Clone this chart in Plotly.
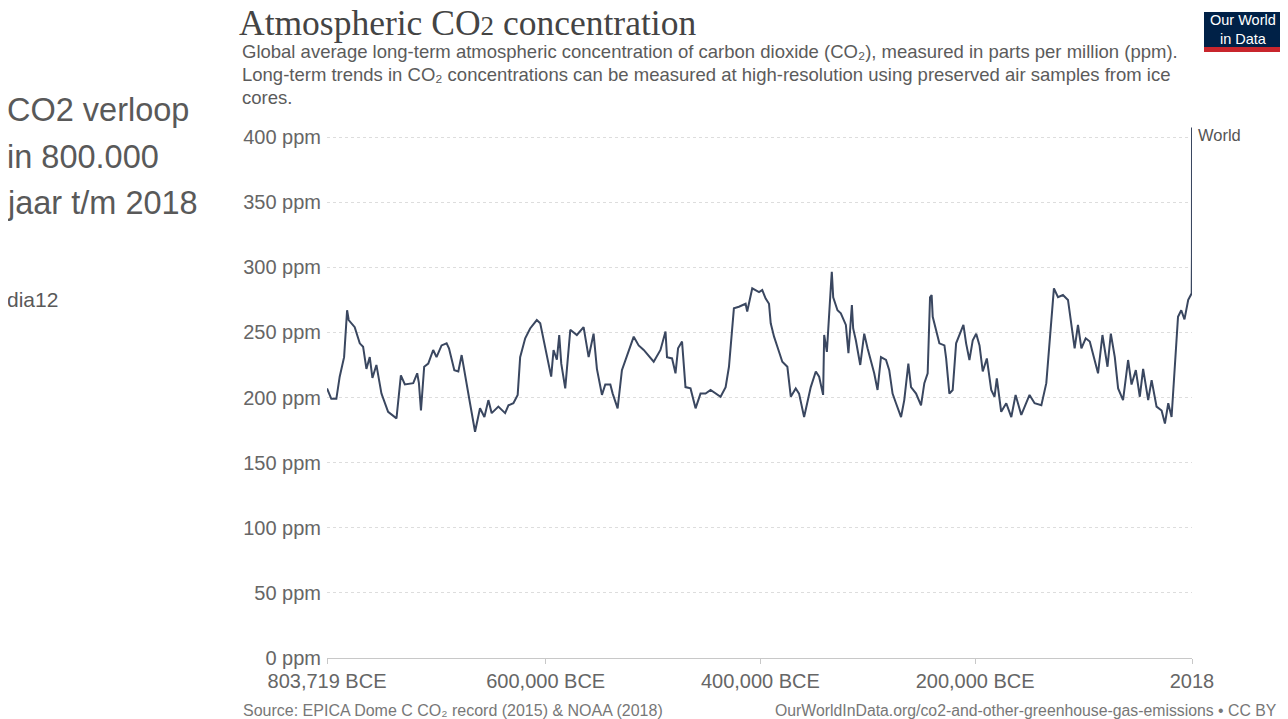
import plotly.graph_objects as go

# ---- data ----
# time in thousands of years (negative = BCE, positive = CE)
kyr = [-803.7, -799.7, -795.0, -791.9, -787.8, -785.0, -783.5, -777.9, -773.2, -770.1,
       -767.0, -763.9, -761.4, -757.7, -753.0, -746.8, -739.0, -734.9, -731.2, -723.4,
       -719.7, -718.1, -716.2, -713.2, -709.4, -704.8, -701.7, -697.0, -692.3, -690.1,
       -685.1, -681.4, -678.3, -675.2, -670.5, -665.8, -661.2, -657.1, -653.4, -650.3,
       -644.1, -637.8, -634.7, -630.1, -626.1, -623.8, -619.1, -614.5, -608.3, -605.1,
       -600.5, -594.9, -592.7, -589.6, -587.4, -585.5, -581.8, -577.1, -571.0, -564.7,
       -560.0, -555.4, -552.3, -547.6, -544.5, -539.8, -537.6, -533.0, -529.0, -522.7,
       -518.0, -513.4, -508.7, -499.4, -493.1, -488.4, -487.0, -482.3, -479.1, -476.7,
       -473.0, -469.8, -465.1, -460.4, -455.8, -451.1, -446.4, -437.1, -432.4, -429.3,
       -424.7, -420.0, -413.8, -412.3, -407.6, -401.3, -398.3, -395.1, -392.0, -390.4,
       -387.3, -384.2, -379.6, -374.9, -371.7, -367.1, -364.0, -359.3, -353.1, -348.4,
       -345.3, -341.6, -340.6, -338.1, -336.0, -334.4, -333.5, -332.2, -328.2, -325.1,
       -320.4, -318.0, -314.8, -313.6, -311.1, -307.0, -303.3, -300.2, -294.0, -290.9,
       -287.7, -283.0, -280.0, -276.9, -273.7, -269.0, -266.0, -264.4, -262.2, -259.7,
       -255.0, -250.4, -247.3, -244.2, -242.0, -240.5, -239.5, -236.4, -233.3, -228.6,
       -227.0, -224.0, -220.9, -217.7, -214.6, -210.9, -208.4, -205.3, -202.2, -199.0,
       -195.9, -192.9, -189.1, -185.0, -181.9, -179.8, -175.7, -171.0, -166.3, -162.3,
       -157.0, -149.3, -144.6, -138.3, -133.7, -130.6, -128.1, -126.6, -122.8, -118.2,
       -113.5, -110.3, -107.3, -104.2, -101.0, -97.0, -93.2, -85.5, -81.4, -76.7,
       -73.6, -69.9, -66.8, -62.2, -57.5, -54.3, -50.3, -46.6, -43.5, -38.8,
       -35.6, -31.0, -26.3, -23.2, -20.1, -17.0, -14.0, -11.0, -8.0, -5.0,
       -1.5, 1.75, 1.95, 2.018]
ppm = [207, 199, 199, 216, 231, 267, 259.5, 254, 241.6, 239,
       222, 231, 215, 225, 203, 189, 184, 217, 210, 211,
       218.6, 211, 190, 223.6, 226, 236.5, 231, 240, 241.6, 237.8,
       221, 220, 232.6, 217, 195.6, 173.7, 191.7, 185, 198, 188,
       193, 188, 194, 195.6, 202, 231, 245.5, 253, 259.5, 257,
       239, 216, 236.5, 229, 248, 226, 207, 252, 248, 254,
       231, 249, 222, 202, 210, 210, 203, 191.7, 221, 235,
       246.7, 240, 236.5, 227.5, 236.5, 250.6, 231, 230, 218.6, 237.8,
       243, 208, 207, 191.7, 203, 203, 205.8, 200.6, 208, 223.6,
       268.5, 269.7, 272, 266, 283.8, 281, 282.5, 276, 272, 257,
       246.7, 239, 227.5, 223.6, 200.6, 207, 203, 185, 208, 220,
       216, 202, 248, 235, 269.7, 285, 296.6, 277, 267, 264.6,
       255.7, 234, 271, 253, 244, 225, 249, 237.8, 218.6, 205.8,
       231, 228.8, 221, 203, 195.6, 185, 198, 210, 226, 208,
       203, 194, 211, 218.6, 277, 278.7, 262, 251.8, 241.6, 240,
       230, 203, 205.8, 241.6, 248, 255.7, 241.6, 228.8, 244, 249,
       240, 220, 230, 205.8, 200.6, 214.7, 189, 195.6, 185, 202,
       186.6, 202, 195.6, 194, 211, 241.6, 267, 283.8, 277, 278.7,
       274.9, 257, 237.8, 255.7, 237.8, 245.5, 243, 218.6, 248, 223.6,
       249, 231, 207, 198, 228.8, 210, 221, 200.6, 222, 198,
       213.4, 193, 190, 180, 195.6, 185, 223.6, 262, 267, 260,
       275, 280, 310, 407.4]

years = [k * 1000 for k in kyr]

x_tick_vals = [-803719, -600000, -400000, -200000, 2018]
x_tick_text = ["803,719 BCE", "600,000 BCE", "400,000 BCE", "200,000 BCE", "2018"]
y_tick_vals = [0, 50, 100, 150, 200, 250, 300, 350, 400]
y_tick_text = [f"{v} ppm" for v in y_tick_vals]

series_name = "World"
title_html = "Atmospheric CO<span style='font-size:27px'>2</span> concentration"
subtitle_lines = [
    "Global average long-term atmospheric concentration of carbon dioxide (CO₂), measured in parts per million (ppm).",
    "Long-term trends in CO₂ concentrations can be measured at high-resolution using preserved air samples from ice",
    "cores.",
]
side_lines = ["CO2 verloop", "in 800.000", "jaar t/m 2018"]
side_note = "dia12"
source_text = "Source: EPICA Dome C CO₂ record (2015) & NOAA (2018)"
link_text = "OurWorldInData.org/co2-and-other-greenhouse-gas-emissions • CC BY"

# ---- layout geometry (pixels of the page; the figure sits 8px in from the page corner) ----
OFF = 8
PAGE_W, PAGE_H = 1288, 719
W, H = PAGE_W - OFF, PAGE_H - OFF
L, R, T, B = 327 - OFF, PAGE_W - 1192, 124 - OFF, PAGE_H - 658
PW, PH = W - L - R, H - T - B


def px(x, y):
    """page pixel -> paper coordinate"""
    x -= OFF
    y -= OFF
    return (x - L) / PW, (H - B - y) / PH


FONT = "Liberation Sans, Arial, sans-serif"
LINE_COLOR = "#3a4760"

fig = go.Figure()
fig.add_trace(go.Scatter(
    x=years, y=ppm, mode="lines", name=series_name,
    line=dict(color=LINE_COLOR, width=2),
    showlegend=False,
))

annotations = []


def ann(text, x, y, size, color, xanchor="left", family=FONT, yanchor="middle"):
    ax, ay = px(x, y)
    annotations.append(dict(text=text, x=ax, y=ay, xref="paper", yref="paper",
                            xanchor=xanchor, yanchor=yanchor, showarrow=False,
                            font=dict(size=size, color=color, family=family)))


ann(title_html, 237, 23, 35.5, "#444444", family="Liberation Serif, Times New Roman, serif")
for i, line in enumerate(subtitle_lines):
    ann(line, 240, 52 + i * 22.5, 18.5, "#5b5b5b")
for i, line in enumerate(side_lines):
    ann(line, 5, 110 + i * 46.5, 32.5, "#595959")
ann(side_note, 5, 299, 21, "#595959")
ann(source_text, 241, 710, 16, "#777777")
ann(link_text, 1279, 710, 15.8, "#777777", xanchor="right")
ann(series_name, 1196, 135, 16.5, "#555555")

# logo
lx0, ly0 = px(1204, 12)
lx1, ly1 = px(1281, 47)
_, ly2 = px(1281, 52)
shapes = [
    dict(type="rect", xref="paper", yref="paper", x0=lx0, x1=lx1, y0=ly1, y1=ly0,
         fillcolor="#002147", line=dict(width=0)),
    dict(type="rect", xref="paper", yref="paper", x0=lx0, x1=lx1, y0=ly2, y1=ly1,
         fillcolor="#c8252c", line=dict(width=0)),
]
ann("Our World<br>in Data", 1242.5, 29.5, 14.5, "#ffffff", xanchor="center")

fig.update_layout(
    width=W, height=H,
    margin=dict(l=L, r=R, t=T, b=B, pad=0),
    paper_bgcolor="white", plot_bgcolor="white",
    annotations=annotations, shapes=shapes,
    font=dict(family=FONT, color="#666666"),
    xaxis=dict(
        range=[-803719, 2018], tickvals=x_tick_vals, ticktext=x_tick_text,
        showgrid=False, zeroline=False, showline=True, linecolor="#c8c8c8", linewidth=1,
        ticks="outside", ticklen=5, tickcolor="#c8c8c8",
        tickfont=dict(size=20, color="#666666", family=FONT),
    ),
    yaxis=dict(
        range=[0, 410], tickvals=y_tick_vals, ticktext=y_tick_text,
        showgrid=True, gridcolor="#dddddd", griddash="3px,3px", gridwidth=1,
        zeroline=False, showline=False, ticks="", ticklabelstandoff=5,
        tickfont=dict(size=20, color="#666666", family=FONT),
    ),
)

fig.write_html("out.html")
